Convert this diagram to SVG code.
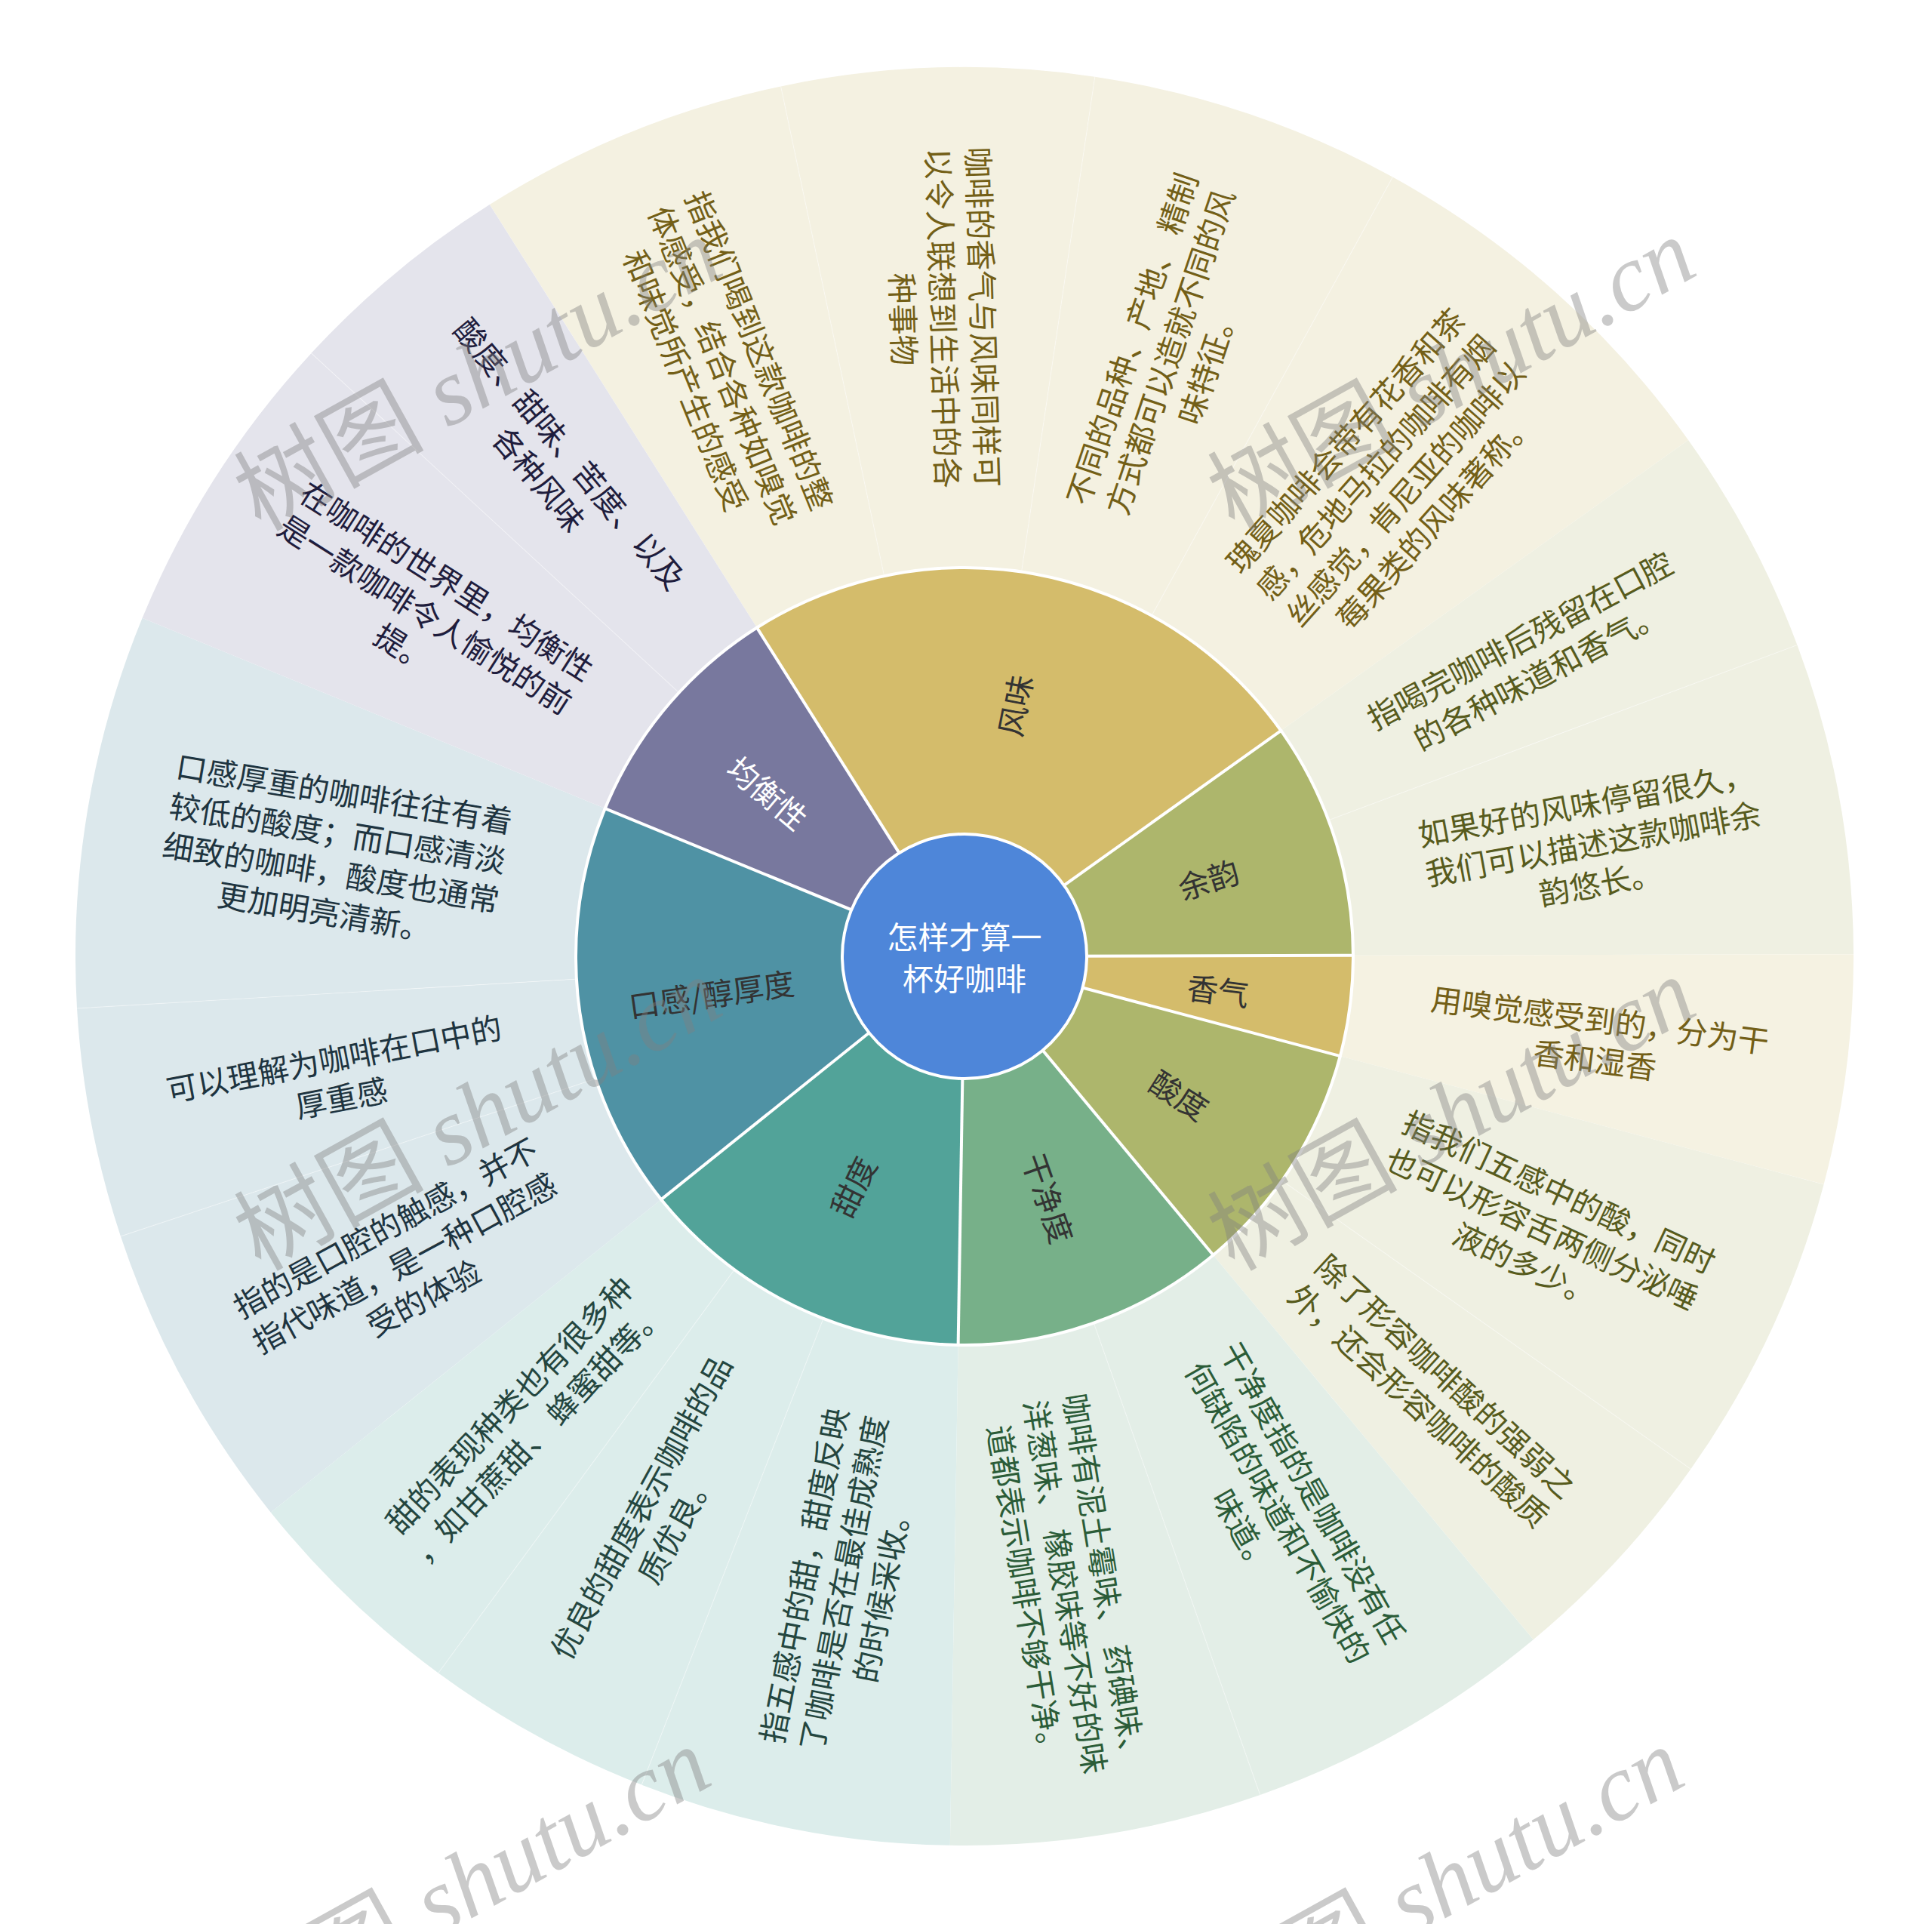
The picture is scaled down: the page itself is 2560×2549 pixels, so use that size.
<svg xmlns="http://www.w3.org/2000/svg" width="2560" height="2549" viewBox="0 0 2560 2549">
<style>
.t{font-family:"Noto Sans CJK SC","Noto Sans",sans-serif;font-size:41px;text-anchor:middle;dominant-baseline:central}
.outer{fill:none;stroke-width:663}
.inner{fill:none;stroke-width:515}
.sep{stroke:#ffffff;stroke-width:4}
.sub{stroke:#ffffff;stroke-width:1.2;stroke-opacity:0.35}
.wm{font-family:"Liberation Serif","Noto Sans CJK SC",serif;font-size:126px;fill:#808080;fill-opacity:0.42}
.c1{fill:#735f17}.c2{fill:#575b1d}.c3{fill:#2b5c38}.c4{fill:#24463f}.c5{fill:#1e3440}.c6{fill:#1f1d3d}
</style>
<rect width="2560" height="2549" fill="#ffffff"/>

<g id="outer-ring">
<circle class="outer" cx="1278" cy="1267" r="846.5" stroke="#f4f1e1" stroke-dasharray="300.75 6000" transform="rotate(-122.28 1278 1267)"/>
<circle class="outer" cx="1278" cy="1267" r="846.5" stroke="#f4f1e1" stroke-dasharray="300.75 6000" transform="rotate(-101.923 1278 1267)"/>
<circle class="outer" cx="1278" cy="1267" r="846.5" stroke="#f4f1e1" stroke-dasharray="300.75 6000" transform="rotate(-81.566 1278 1267)"/>
<circle class="outer" cx="1278" cy="1267" r="846.5" stroke="#f4f1e1" stroke-dasharray="379.9 6000" transform="rotate(-61.209 1278 1267)"/>
<circle class="outer" cx="1278" cy="1267" r="846.5" stroke="#eff0e2" stroke-dasharray="221.61 6000" transform="rotate(-35.495 1278 1267)"/>
<circle class="outer" cx="1278" cy="1267" r="846.5" stroke="#eff0e2" stroke-dasharray="300.75 6000" transform="rotate(-20.495 1278 1267)"/>
<circle class="outer" cx="1278" cy="1267" r="846.5" stroke="#f5f2e2" stroke-dasharray="221.61 6000" transform="rotate(-0.138 1278 1267)"/>
<circle class="outer" cx="1278" cy="1267" r="846.5" stroke="#eff0e2" stroke-dasharray="300.75 6000" transform="rotate(14.862 1278 1267)"/>
<circle class="outer" cx="1278" cy="1267" r="846.5" stroke="#eff0e2" stroke-dasharray="221.61 6000" transform="rotate(35.219 1278 1267)"/>
<circle class="outer" cx="1278" cy="1267" r="846.5" stroke="#e3eee7" stroke-dasharray="300.75 6000" transform="rotate(50.219 1278 1267)"/>
<circle class="outer" cx="1278" cy="1267" r="846.5" stroke="#e3eee7" stroke-dasharray="300.75 6000" transform="rotate(70.576 1278 1267)"/>
<circle class="outer" cx="1278" cy="1267" r="846.5" stroke="#dcedeb" stroke-dasharray="300.75 6000" transform="rotate(90.933 1278 1267)"/>
<circle class="outer" cx="1278" cy="1267" r="846.5" stroke="#dcedeb" stroke-dasharray="221.61 6000" transform="rotate(111.29 1278 1267)"/>
<circle class="outer" cx="1278" cy="1267" r="846.5" stroke="#dcedeb" stroke-dasharray="221.61 6000" transform="rotate(126.29 1278 1267)"/>
<circle class="outer" cx="1278" cy="1267" r="846.5" stroke="#dce8ec" stroke-dasharray="300.75 6000" transform="rotate(141.29 1278 1267)"/>
<circle class="outer" cx="1278" cy="1267" r="846.5" stroke="#dce8ec" stroke-dasharray="221.61 6000" transform="rotate(161.647 1278 1267)"/>
<circle class="outer" cx="1278" cy="1267" r="846.5" stroke="#dce8ec" stroke-dasharray="379.9 6000" transform="rotate(176.647 1278 1267)"/>
<circle class="outer" cx="1278" cy="1267" r="846.5" stroke="#e4e4ec" stroke-dasharray="300.75 6000" transform="rotate(202.361 1278 1267)"/>
<circle class="outer" cx="1278" cy="1267" r="846.5" stroke="#e4e4ec" stroke-dasharray="221.61 6000" transform="rotate(222.718 1278 1267)"/>
</g>

<g id="outer-dividers" transform="translate(1278 1267)">
<line class="sub" x1="517" y1="0" x2="1178" y2="0" transform="rotate(-101.923)"/>
<line class="sub" x1="517" y1="0" x2="1178" y2="0" transform="rotate(-81.566)"/>
<line class="sub" x1="517" y1="0" x2="1178" y2="0" transform="rotate(-61.209)"/>
<line class="sub" x1="517" y1="0" x2="1178" y2="0" transform="rotate(-20.495)"/>
<line class="sub" x1="517" y1="0" x2="1178" y2="0" transform="rotate(35.219)"/>
<line class="sub" x1="517" y1="0" x2="1178" y2="0" transform="rotate(70.576)"/>
<line class="sub" x1="517" y1="0" x2="1178" y2="0" transform="rotate(111.29)"/>
<line class="sub" x1="517" y1="0" x2="1178" y2="0" transform="rotate(126.29)"/>
<line class="sub" x1="517" y1="0" x2="1178" y2="0" transform="rotate(161.647)"/>
<line class="sub" x1="517" y1="0" x2="1178" y2="0" transform="rotate(176.647)"/>
<line class="sub" x1="517" y1="0" x2="1178" y2="0" transform="rotate(222.718)"/>
</g>

<g id="inner-ring">
<circle class="inner" cx="1278" cy="1267" r="257.5" stroke="#d4bc6b" stroke-dasharray="390.03 3000" transform="rotate(-122.28 1278 1267)"/>
<circle class="inner" cx="1278" cy="1267" r="257.5" stroke="#adb66c" stroke-dasharray="158.9 3000" transform="rotate(-35.495 1278 1267)"/>
<circle class="inner" cx="1278" cy="1267" r="257.5" stroke="#d4bc6b" stroke-dasharray="67.41 3000" transform="rotate(-0.138 1278 1267)"/>
<circle class="inner" cx="1278" cy="1267" r="257.5" stroke="#adb66c" stroke-dasharray="158.9 3000" transform="rotate(14.862 1278 1267)"/>
<circle class="inner" cx="1278" cy="1267" r="257.5" stroke="#77b089" stroke-dasharray="182.98 3000" transform="rotate(50.219 1278 1267)"/>
<circle class="inner" cx="1278" cy="1267" r="257.5" stroke="#52a399" stroke-dasharray="226.31 3000" transform="rotate(90.933 1278 1267)"/>
<circle class="inner" cx="1278" cy="1267" r="257.5" stroke="#4f92a4" stroke-dasharray="274.47 3000" transform="rotate(141.29 1278 1267)"/>
<circle class="inner" cx="1278" cy="1267" r="257.5" stroke="#78789e" stroke-dasharray="158.9 3000" transform="rotate(202.361 1278 1267)"/>
<circle cx="1278" cy="1267" r="515" fill="none" stroke="#ffffff" stroke-width="4"/>
</g>

<g id="connectors" transform="translate(1278 1267)">
<line class="sep" x1="0" y1="0" x2="517" y2="0" transform="rotate(-122.28)"/>
<line class="sep" x1="0" y1="0" x2="517" y2="0" transform="rotate(-35.495)"/>
<line class="sep" x1="0" y1="0" x2="517" y2="0" transform="rotate(-0.138)"/>
<line class="sep" x1="0" y1="0" x2="517" y2="0" transform="rotate(14.862)"/>
<line class="sep" x1="0" y1="0" x2="517" y2="0" transform="rotate(50.219)"/>
<line class="sep" x1="0" y1="0" x2="517" y2="0" transform="rotate(90.933)"/>
<line class="sep" x1="0" y1="0" x2="517" y2="0" transform="rotate(141.29)"/>
<line class="sep" x1="0" y1="0" x2="517" y2="0" transform="rotate(202.361)"/>
</g>

<g id="root">
<circle cx="1278" cy="1267" r="162" fill="#4e86d9" stroke="#ffffff" stroke-width="4"/>
<text class="t" x="1278" y="1239" fill="#ffffff">怎样才算一</text>
<text class="t" x="1278" y="1294" fill="#ffffff">杯好咖啡</text>
</g>

<g id="node-fengwei">
<g transform="translate(1278 1267) rotate(-78.89) translate(339 0)"><text class="t" fill="#333333">风味</text></g>
<g class="c1" transform="translate(1278 1267) rotate(-112.1) translate(846 0) rotate(180)">
<text class="t" y="-53">指我们喝到这款咖啡的整</text><text class="t" y="0">体感受，结合各种如嗅觉</text><text class="t" y="53">和味觉所产生的感受</text></g>
<g class="c1" transform="translate(1278 1267) rotate(-91.745) translate(846 0) rotate(180)">
<text class="t" y="-53">咖啡的香气与风味同样可</text><text class="t" y="0">以令人联想到生活中的各</text><text class="t" y="53">种事物</text></g>
<g class="c1" transform="translate(1278 1267) rotate(-71.39) translate(846 0)">
<text class="t" y="-53">不同的品种、产地、 精制</text><text class="t" y="0">方式都可以造就不同的风</text><text class="t" y="53">味特征。</text></g>
<g class="c1" transform="translate(1278 1267) rotate(-48.35) translate(846 0)">
<text class="t" y="-79.5">瑰夏咖啡会带有花香和茶</text><text class="t" y="-26.5">感，危地马拉的咖啡有烟</text><text class="t" y="26.5">丝感觉，肯尼亚的咖啡以</text><text class="t" y="79.5">莓果类的风味著称。</text></g>
</g>

<g id="node-yuyun">
<g transform="translate(1278 1267) rotate(-17.82) translate(339 0)"><text class="t" fill="#333333">余韵</text></g>
<g class="c2" transform="translate(1278 1267) rotate(-27.995) translate(846 0)">
<text class="t" y="-26.5">指喝完咖啡后残留在口腔</text><text class="t" y="26.5">的各种味道和香气。</text></g>
<g class="c2" transform="translate(1278 1267) rotate(-10.32) translate(846 0)">
<text class="t" y="-53">如果好的风味停留很久，</text><text class="t" y="0">我们可以描述这款咖啡余</text><text class="t" y="53">韵悠长。</text></g>
</g>

<g id="node-xiangqi">
<g transform="translate(1278 1267) rotate(7.36) translate(339 0)"><text class="t" fill="#333333">香气</text></g>
<g class="c1" transform="translate(1278 1267) rotate(7.36) translate(846 0)">
<text class="t" y="-26.5">用嗅觉感受到的，分为干</text><text class="t" y="26.5">香和湿香</text></g>
</g>

<g id="node-suandu">
<g transform="translate(1278 1267) rotate(32.54) translate(339 0)"><text class="t" fill="#333333">酸度</text></g>
<g class="c2" transform="translate(1278 1267) rotate(25.04) translate(846 0)">
<text class="t" y="-53">指我们五感中的酸，同时</text><text class="t" y="0">也可以形容舌两侧分泌唾</text><text class="t" y="53">液的多少。</text></g>
<g class="c2" transform="translate(1278 1267) rotate(42.72) translate(846 0)">
<text class="t" y="-26.5">除了形容咖啡酸的强弱之</text><text class="t" y="26.5">外，还会形容咖啡的酸质</text></g>
</g>

<g id="node-ganjingdu">
<g transform="translate(1278 1267) rotate(70.58) translate(339 0)"><text class="t" fill="#333333">干净度</text></g>
<g class="c3" transform="translate(1278 1267) rotate(60.4) translate(846 0)">
<text class="t" y="-53">干净度指的是咖啡没有任</text><text class="t" y="0">何缺陷的味道和不愉快的</text><text class="t" y="53">味道。</text></g>
<g class="c3" transform="translate(1278 1267) rotate(80.75) translate(846 0)">
<text class="t" y="-53">咖啡有泥土霉味、 药碘味、</text><text class="t" y="0">洋葱味、 橡胶味等不好的味</text><text class="t" y="53">道都表示咖啡不够干净。</text></g>
</g>

<g id="node-tiandu">
<g transform="translate(1278 1267) rotate(116.11) translate(339 0) rotate(180)"><text class="t" fill="#333333">甜度</text></g>
<g class="c4" transform="translate(1278 1267) rotate(101.11) translate(846 0) rotate(180)">
<text class="t" y="-53">指五感中的甜，甜度反映</text><text class="t" y="0">了咖啡是否在最佳成熟度</text><text class="t" y="53">的时候采收。</text></g>
<g class="c4" transform="translate(1278 1267) rotate(118.79) translate(846 0) rotate(180)">
<text class="t" y="-26.5">优良的甜度表示咖啡的品</text><text class="t" y="26.5">质优良。</text></g>
<g class="c4" transform="translate(1278 1267) rotate(133.79) translate(846 0) rotate(180)">
<text class="t" y="-26.5">甜的表现种类也有很多种</text><text class="t" y="26.5">，如甘蔗甜、 蜂蜜甜等。</text></g>
</g>

<g id="node-kougan">
<g transform="translate(1278 1267) rotate(171.83) translate(339 0) rotate(180)"><text class="t" fill="#333333">口感/醇厚度</text></g>
<g class="c5" transform="translate(1278 1267) rotate(151.47) translate(846 0) rotate(180)">
<text class="t" y="-53">指的是口腔的触感，并不</text><text class="t" y="0">指代味道，是一种口腔感</text><text class="t" y="53">受的体验</text></g>
<g class="c5" transform="translate(1278 1267) rotate(169.15) translate(846 0) rotate(180)">
<text class="t" y="-26.5">可以理解为咖啡在口中的</text><text class="t" y="26.5">厚重感</text></g>
<g class="c5" transform="translate(1278 1267) rotate(189.5) translate(846 0) rotate(180)">
<text class="t" y="-79.5">口感厚重的咖啡往往有着</text><text class="t" y="-26.5">较低的酸度；而口感清淡</text><text class="t" y="26.5">细致的咖啡，酸度也通常</text><text class="t" y="79.5">更加明亮清新。</text></g>
</g>

<g id="node-junhengxing">
<g transform="translate(1278 1267) rotate(220.04) translate(339 0) rotate(180)"><text class="t" fill="#ffffff">均衡性</text></g>
<g class="c6" transform="translate(1278 1267) rotate(212.54) translate(846 0) rotate(180)">
<text class="t" y="-53">在咖啡的世界里，均衡性</text><text class="t" y="0">是一款咖啡令人愉悦的前</text><text class="t" y="53">提。</text></g>
<g class="c6" transform="translate(1278 1267) rotate(230.22) translate(846 0) rotate(180)">
<text class="t" y="-26.5">酸度、甜味、苦度、以及</text><text class="t" y="26.5">各种风味</text></g>
</g>

<g id="watermarks">
<text class="wm" x="345" y="705" transform="rotate(-29 345 705)">树图 <tspan font-style="italic">shutu.cn</tspan></text>
<text class="wm" x="1635" y="705" transform="rotate(-29 1635 705)">树图 <tspan font-style="italic">shutu.cn</tspan></text>
<text class="wm" x="345" y="1685" transform="rotate(-29 345 1685)">树图 <tspan font-style="italic">shutu.cn</tspan></text>
<text class="wm" x="1635" y="1685" transform="rotate(-29 1635 1685)">树图 <tspan font-style="italic">shutu.cn</tspan></text>
<text class="wm" x="330" y="2705" transform="rotate(-29 330 2705)">树图 <tspan font-style="italic">shutu.cn</tspan></text>
<text class="wm" x="1620" y="2705" transform="rotate(-29 1620 2705)">树图 <tspan font-style="italic">shutu.cn</tspan></text>
</g>
</svg>
